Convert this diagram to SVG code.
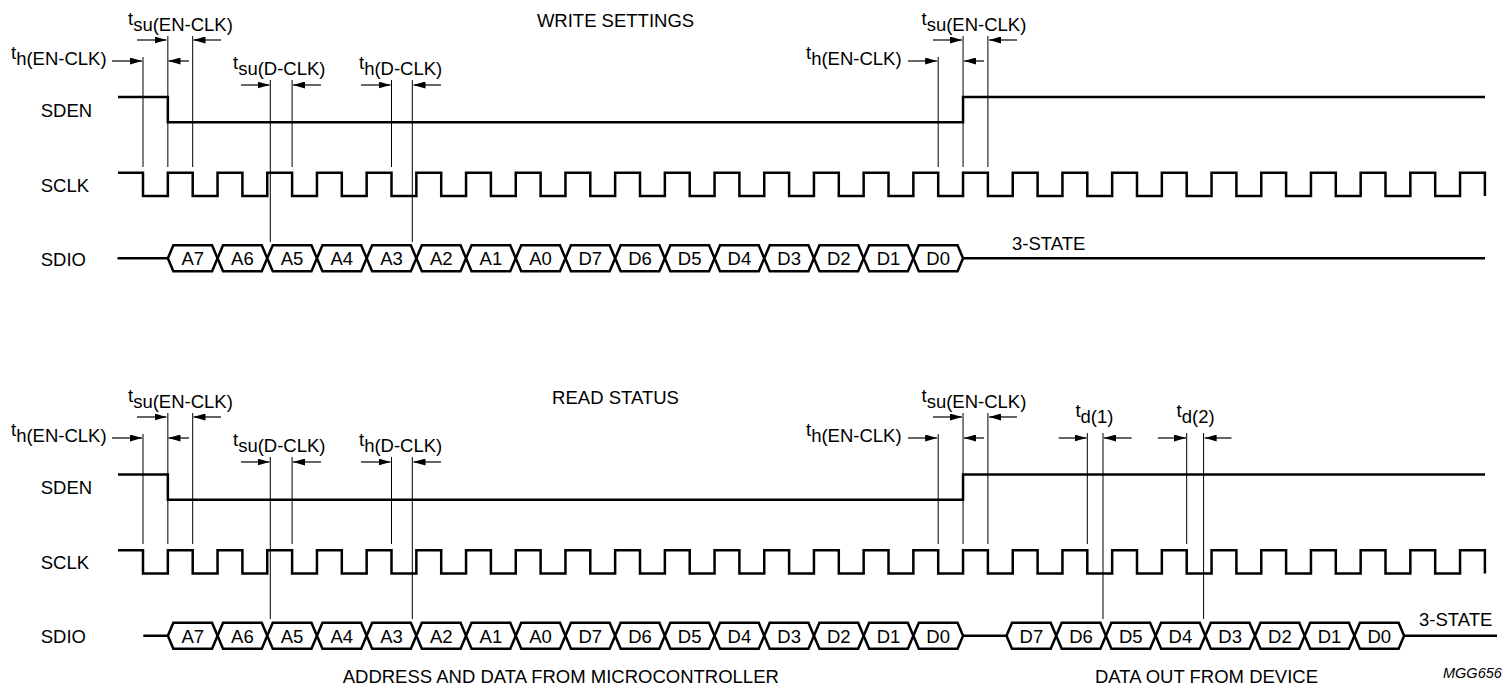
<svg xmlns="http://www.w3.org/2000/svg" xmlns:xlink="http://www.w3.org/1999/xlink" width="1503" height="686" viewBox="0 0 1503 686">
<style>
text{font-family:"Liberation Sans",Arial,sans-serif;font-size:18.5px;fill:#000}
.c{text-anchor:middle}
.b{font-size:18px}
.wave{fill:none;stroke:#000;stroke-width:2.5;stroke-linejoin:miter}
.box{fill:#fff;stroke:#000;stroke-width:2.5;stroke-linejoin:miter}
.tl{stroke:#000;stroke-width:1;fill:none}
.ar{stroke:#000;stroke-width:1.2;fill:none;marker-end:url(#ah)}
.id{font-style:italic;font-size:14.5px}
</style>
<defs>
<marker id="ah" markerUnits="userSpaceOnUse" markerWidth="12" markerHeight="7" refX="12" refY="3.5" orient="auto">
<path d="M0,0 L12,3.5 L0,7 z" fill="#000"/>
</marker>
<polygon id="hex" class="box" points="0,0 5.5,-13 44.2,-13 49.7,0 44.2,13 5.5,13"/>
<path id="sclkwave" class="wave" d="M118,172.8 H143 V196 H167.85 V172.8 H192.7 V196 H217.55 V172.8 H242.4 V196 H267.25 V172.8 H292.1 V196 H316.95 V172.8 H341.8 V196 H366.65 V172.8 H391.5 V196 H416.35 V172.8 H441.2 V196 H466.05 V172.8 H490.9 V196 H515.75 V172.8 H540.6 V196 H565.45 V172.8 H590.3 V196 H615.15 V172.8 H640 V196 H664.85 V172.8 H689.7 V196 H714.55 V172.8 H739.4 V196 H764.25 V172.8 H789.1 V196 H813.95 V172.8 H838.8 V196 H863.65 V172.8 H888.5 V196 H913.35 V172.8 H938.2 V196 H963.05 V172.8 H987.9 V196 H1012.75 V172.8 H1037.6 V196 H1062.45 V172.8 H1087.3 V196 H1112.15 V172.8 H1137 V196 H1161.85 V172.8 H1186.7 V196 H1211.55 V172.8 H1236.4 V196 H1261.25 V172.8 H1286.1 V196 H1310.95 V172.8 H1335.8 V196 H1360.65 V172.8 H1385.5 V196 H1410.35 V172.8 H1435.2 V196 H1460.05 V172.8 H1484.9 V196"/>
<path id="sdenwave" class="wave" d="M118,97 H167.85 V122.3 H963.05 V97 H1485"/>
<g id="addrboxes">
<use xlink:href="#hex" x="167.85" y="258.3"/><use xlink:href="#hex" x="217.55" y="258.3"/><use xlink:href="#hex" x="267.25" y="258.3"/><use xlink:href="#hex" x="316.95" y="258.3"/>
<use xlink:href="#hex" x="366.65" y="258.3"/><use xlink:href="#hex" x="416.35" y="258.3"/><use xlink:href="#hex" x="466.05" y="258.3"/><use xlink:href="#hex" x="515.75" y="258.3"/>
<use xlink:href="#hex" x="565.45" y="258.3"/><use xlink:href="#hex" x="615.15" y="258.3"/><use xlink:href="#hex" x="664.85" y="258.3"/><use xlink:href="#hex" x="714.55" y="258.3"/>
<use xlink:href="#hex" x="764.25" y="258.3"/><use xlink:href="#hex" x="813.95" y="258.3"/><use xlink:href="#hex" x="863.65" y="258.3"/><use xlink:href="#hex" x="913.35" y="258.3"/>
<g class="c b">
<text x="192.7" y="265">A7</text><text x="242.4" y="265">A6</text><text x="292.1" y="265">A5</text><text x="341.8" y="265">A4</text>
<text x="391.5" y="265">A3</text><text x="441.2" y="265">A2</text><text x="490.9" y="265">A1</text><text x="540.6" y="265">A0</text>
<text x="590.3" y="265">D7</text><text x="640" y="265">D6</text><text x="689.7" y="265">D5</text><text x="739.4" y="265">D4</text>
<text x="789.1" y="265">D3</text><text x="838.8" y="265">D2</text><text x="888.5" y="265">D1</text><text x="938.2" y="265">D0</text>
</g>
</g>
<g id="toptiming">
<path class="tl" d="M143,57 V167 M167.85,36 V167 M192.7,36 V167 M270.3,80 V242 M292.1,80 V167 M391.5,80 V167 M412.3,80 V242 M938.2,57 V167 M963.05,36 V167 M987.9,36 V167"/>
<path class="ar" d="M112,61 H142"/>
<path class="ar" d="M189,61 H168.5"/>
<path class="ar" d="M137,40 H166.5"/>
<path class="ar" d="M221,40 H193.5"/>
<path class="ar" d="M241,85 H269.5"/>
<path class="ar" d="M321,85 H293"/>
<path class="ar" d="M361,85 H390.5"/>
<path class="ar" d="M441,85 H413.5"/>
<path class="ar" d="M908,61 H937.2"/>
<path class="ar" d="M984,61 H964"/>
<path class="ar" d="M933,40 H962"/>
<path class="ar" d="M1017,40 H989"/>
<text x="128" y="25">t<tspan dy="6">su(EN-CLK)</tspan></text>
<text x="11" y="59">t<tspan dy="6">h(EN-CLK)</tspan></text>
<text x="233" y="69">t<tspan dy="6">su(D-CLK)</tspan></text>
<text x="359" y="69">t<tspan dy="6">h(D-CLK)</tspan></text>
<text x="921.5" y="25">t<tspan dy="6">su(EN-CLK)</tspan></text>
<text x="806" y="59">t<tspan dy="6">h(EN-CLK)</tspan></text>
</g>
</defs>

<g id="write-settings">
<text id="title-write" class="c" x="615.5" y="27">WRITE SETTINGS</text>
<g id="w-labels">
<text x="40.7" y="117">SDEN</text>
<text x="40.7" y="191.5">SCLK</text>
<text x="40.7" y="266">SDIO</text>
</g>
<g id="w-sden"><use xlink:href="#sdenwave"/></g>
<g id="w-sclk"><use xlink:href="#sclkwave"/></g>
<g id="w-sdio">
<path class="wave" d="M117.5,258.3 H167.85 M963.05,258.3 H1485"/>
<use xlink:href="#addrboxes"/>
<text x="1012" y="250">3-STATE</text>
</g>
<g id="w-timing"><use xlink:href="#toptiming"/></g>
</g>

<g id="read-status">
<text id="title-read" class="c" x="615.5" y="404">READ STATUS</text>
<g id="r-labels">
<text x="40.7" y="494">SDEN</text>
<text x="40.7" y="568.5">SCLK</text>
<text x="40.7" y="643">SDIO</text>
</g>
<g id="r-sden"><use xlink:href="#sdenwave" transform="translate(0,377.5)"/></g>
<g id="r-sclk"><use xlink:href="#sclkwave" transform="translate(0,377.5)"/></g>
<g id="r-sdio">
<path class="wave" d="M143.3,635.8 H167.85 M963.05,635.8 H1006.5 M1404.1,635.8 H1497"/>
<use xlink:href="#addrboxes" transform="translate(0,377.5)"/>
<use xlink:href="#hex" x="1006.5" y="635.8"/><use xlink:href="#hex" x="1056.2" y="635.8"/><use xlink:href="#hex" x="1105.9" y="635.8"/><use xlink:href="#hex" x="1155.6" y="635.8"/>
<use xlink:href="#hex" x="1205.3" y="635.8"/><use xlink:href="#hex" x="1255" y="635.8"/><use xlink:href="#hex" x="1304.7" y="635.8"/><use xlink:href="#hex" x="1354.4" y="635.8"/>
<g class="c b">
<text x="1031.35" y="642.5">D7</text><text x="1081.05" y="642.5">D6</text><text x="1130.75" y="642.5">D5</text><text x="1180.45" y="642.5">D4</text>
<text x="1230.15" y="642.5">D3</text><text x="1279.85" y="642.5">D2</text><text x="1329.55" y="642.5">D1</text><text x="1379.25" y="642.5">D0</text>
</g>
<text x="1419" y="626">3-STATE</text>
</g>
<g id="r-timing">
<use xlink:href="#toptiming" transform="translate(0,377)"/>
<path class="tl" d="M1087.3,433 V544 M1103,433 V619 M1186.7,433 V544 M1203.6,433 V619"/>
<path class="ar" d="M1058.7,438 H1086.5"/>
<path class="ar" d="M1131.6,438 H1104"/>
<path class="ar" d="M1157.8,438 H1186"/>
<path class="ar" d="M1231.5,438 H1204.6"/>
<text x="1075.4" y="417">t<tspan dy="6">d(1)</tspan></text>
<text x="1176.6" y="417">t<tspan dy="6">d(2)</tspan></text>
</g>
</g>

<g id="captions">
<text x="342.7" y="683">ADDRESS AND DATA FROM MICROCONTROLLER</text>
<text x="1095" y="683">DATA OUT FROM DEVICE</text>
<text class="id" x="1443" y="678">MGG656</text>
</g>
</svg>
